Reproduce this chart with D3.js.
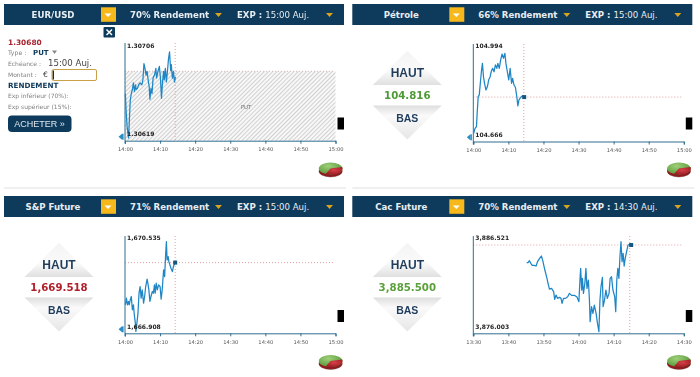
<!DOCTYPE html>
<html><head><meta charset="utf-8">
<script src="https://cdnjs.cloudflare.com/ajax/libs/d3/7.8.5/d3.min.js"></script>
<style>
html,body{margin:0;padding:0;background:#fff;overflow:hidden}
svg{display:block;filter:blur(0.4px)}
text{font-family:"DejaVu Sans",sans-serif}
text.arial{font-family:"Liberation Sans",sans-serif}
</style></head><body>
<svg id="c" width="700" height="377"></svg>
<script>
// ---------- data ----------
const instruments = ["EUR/USD","Pétrole","S&P Future","Cac Future"];
const payouts = ["70% Rendement","66% Rendement","71% Rendement","70% Rendement"];
const expiries = ["15:00 Auj.","15:00 Auj.","15:00 Auj.","14:30 Auj."];
const axisStarts = ["14:00","14:00","14:00","13:30"];
const tickLabelsA = ["14:00","14:10","14:20","14:30","14:40","14:50","15:00"];
const tickLabelsB = ["13:30","13:40","13:50","14:00","14:10","14:20","14:30"];
const highLabels = ["1.30706","104.994","1,670.535","3,886.521"];
const lowLabels = ["1.30619","104.666","1,666.908","3,876.003"];
const highs = [1.30706,104.994,1670.535,3886.521];
const lows = [1.30619,104.666,1666.908,3876.003];
const strikes = [1.30685,104.816,1669.518,3885.5];
const quotes = ["1.30680","104.816","1,669.518","3,885.500"];
const nowMinutes = [14.3,14.4,14.3,44.6];

const eurT = [0.1,0.3,0.6,1,1.2,1.5,1.8,2.1,2.4,2.7,3,3.2,3.5,3.9,4.3,4.8,5.1,5.4,5.7,6,6.3,6.6,6.9,7.1,7.4,7.7,8,8.4,8.8,9,9.4,9.8,10.1,10.4,10.7,11,11.2,11.5,11.8,12.1,12.4,12.7,13,13.2,13.5,13.8,14.1,14.4];
const eurV = [1.30662,1.30645,1.30628,1.30616,1.30631,1.30655,1.30662,1.30666,1.30673,1.30664,1.30671,1.30666,1.30667,1.30671,1.30673,1.30671,1.30676,1.30693,1.30688,1.30681,1.30685,1.30676,1.30669,1.30656,1.30667,1.30662,1.30678,1.30681,1.30688,1.30678,1.30685,1.30690,1.30678,1.30657,1.30674,1.30685,1.30676,1.30688,1.30674,1.30685,1.30698,1.30705,1.30686,1.30692,1.30678,1.30685,1.30674,1.30679];

const oilT = [0.1,0.5,0.9,1.1,1.4,1.7,2,2.3,2.6,2.9,3.2,3.6,4,4.4,4.8,5.1,5.5,5.9,6.3,6.7,7,7.4,7.8,8.2,8.6,9,9.3,9.7,10.1,10.5,10.9,11.2,11.6,12,12.4,12.7,13,13.3,13.7,14.1,14.5];
const oilV = [104.669,104.689,104.696,104.750,104.818,104.825,104.872,104.919,104.953,104.899,104.872,104.845,104.858,104.886,104.899,104.919,104.933,104.919,104.947,104.933,104.953,104.933,104.967,104.991,104.974,104.994,104.953,104.919,104.886,104.933,104.872,104.892,104.865,104.856,104.818,104.780,104.804,104.811,104.818,104.821,104.816];

const spT = [0.1,0.4,0.7,1,1.2,1.5,1.8,2.1,2.4,2.7,2.9,3.1,3.4,3.7,4,4.3,4.6,4.9,5.3,5.6,5.9,6.3,6.6,6.8,7.1,7.4,7.8,8.1,8.4,8.6,8.9,9.2,9.6,10,10.3,10.6,11,11.3,11.6,11.8,12,12.3,12.5,12.8,13.1,13.5,13.8,14.1,14.3];
const spV = [1667.753,1668.031,1667.753,1667.892,1667.753,1667.961,1668.100,1667.544,1667.753,1667.266,1667.058,1666.641,1666.988,1667.405,1668.239,1668.517,1668.031,1668.378,1667.822,1668.100,1668.517,1668.823,1668.587,1668.378,1667.892,1668.100,1668.309,1668.239,1668.587,1668.239,1668.656,1668.378,1668.587,1668.517,1667.989,1668.378,1669.212,1668.934,1669.907,1670.394,1669.629,1669.768,1669.560,1669.421,1669.282,1669.143,1669.351,1669.462,1669.518];

const cacT = [15.2,15.6,16,16.4,16.8,17.3,17.9,18.3,18.9,19.4,19.8,20.4,21,21.3,21.7,22.3,22.9,23.2,23.6,24,24.6,25,25.3,25.7,26.3,26.9,27.4,28,28.8,29.5,30.1,30.4,30.6,30.9,31.1,31.4,31.8,32.1,32.4,32.8,33.1,33.3,33.7,34.1,34.5,35,35.4,35.8,36.1,36.4,36.8,37,37.4,37.8,38.2,38.7,39,39.4,39.8,40.3,40.6,40.9,41.2,41.5,41.8,42.1,42.4,42.7,43,43.3,43.7,44.1,44.6,45];
const cacV = [3883.564,3883.564,3883.783,3883.491,3883.272,3883.272,3883.199,3883.673,3884.039,3884.295,3883.783,3882.760,3881.847,3881.299,3880.678,3880.751,3880.386,3879.546,3880.020,3879.655,3879.765,3879.655,3879.107,3879.655,3879.655,3879.838,3880.203,3879.984,3879.984,3879.838,3879.290,3881.664,3882.943,3880.568,3881.847,3880.203,3881.299,3882.943,3880.751,3881.664,3879.473,3877.098,3878.742,3878.011,3878.925,3878.011,3876.915,3876.003,3879.473,3880.934,3881.957,3878.742,3879.473,3880.568,3879.655,3880.203,3881.847,3882.030,3880.568,3879.838,3878.194,3881.664,3882.943,3881.847,3884.221,3885.865,3883.673,3884.587,3883.199,3884.039,3884.769,3885.500,3885.573,3885.500];

const seriesT = [eurT,oilT,spT,cacT];
const seriesV = [eurV,oilV,spV,cacV];
const quoteColors = ["#a8232f","#4d9a35","#b0202c","#5aa03a"];

// ---------- layout ----------
const NAVY="#0e3a5c", GOLD="#d9a520", LINE="#1f86c6", AXIS="#2f6f92";
const svg=d3.select("#c");
const defs=svg.append("defs");
const g1=defs.append("linearGradient").attr("id","up").attr("x1",0).attr("x2",0).attr("y1",0).attr("y2",1);
g1.append("stop").attr("offset",0).attr("stop-color","#f4f4f4");
g1.append("stop").attr("offset",.6).attr("stop-color","#fafafa");
g1.append("stop").attr("offset",1).attr("stop-color","#e0e0e0");
const g2=defs.append("linearGradient").attr("id","dn").attr("x1",0).attr("x2",0).attr("y1",0).attr("y2",1);
g2.append("stop").attr("offset",0).attr("stop-color","#dedede");
g2.append("stop").attr("offset",.3).attr("stop-color","#fafafa");
g2.append("stop").attr("offset",1).attr("stop-color","#e6e6e6");
const gr=defs.append("radialGradient").attr("id","gre").attr("cx",.4).attr("cy",.3).attr("r",.8);
gr.append("stop").attr("offset",0).attr("stop-color","#9fd07a");
gr.append("stop").attr("offset",1).attr("stop-color","#4c8f2e");
const rd=defs.append("radialGradient").attr("id","red").attr("cx",.5).attr("cy",.4).attr("r",.7);
rd.append("stop").attr("offset",0).attr("stop-color","#d8404a");
rd.append("stop").attr("offset",1).attr("stop-color","#98181f");
const hp=defs.append("pattern").attr("id","hatch").attr("width",3).attr("height",3)
  .attr("patternUnits","userSpaceOnUse").attr("patternTransform","rotate(45)");
hp.append("rect").attr("width",3).attr("height",3).attr("fill","#f8f8f8");
hp.append("rect").attr("width",1).attr("height",3).attr("fill","#d0d0d0");

function toMin(s){const p=s.split(":");return +p[0]*60+ +p[1];}
function fmt(m){return String(Math.floor(m/60)).padStart(2,"0")+":"+String(m%60).padStart(2,"0");}

instruments.forEach((name,i)=>{
  const ox = i%2 ? 348.3 : 0, oy = i>1 ? 192 : 0;
  const g=svg.append("g").attr("transform",`translate(${ox},${oy})`);
  // header
  g.append("rect").attr("x",4).attr("y",4).attr("width",340).attr("height",21).attr("fill",NAVY);
  g.append("text").attr("x",53).attr("y",18).attr("text-anchor","middle").attr("fill","#e8eef2")
    .attr("font-size",8.6).attr("font-weight","bold").text(name);
  g.append("rect").attr("x",101).attr("y",7.3).attr("width",15).attr("height",14.5).attr("fill","#f6b81a");
  g.append("path").attr("d","M104.5 13.5h7l-3.5 3.5z").attr("fill","#fff");
  g.append("text").attr("x",130).attr("y",18).attr("fill","#e8eef2").attr("font-size",8.6).attr("font-weight","bold").text(payouts[i]);
  g.append("path").attr("d","M215 13h7l-3.5 4z").attr("fill",GOLD);
  const ex=g.append("text").attr("x",237).attr("y",18).attr("fill","#e8eef2").attr("font-size",8.6);
  ex.append("tspan").attr("font-weight","bold").text("EXP : ");
  ex.append("tspan").text(expiries[i]);
  g.append("path").attr("d","M326 13h7l-3.5 4z").attr("fill",GOLD);

  // chart
  const xScale=d3.scaleLinear().domain([0,60]).range([125,335.5]);
  const bot=[140.7,141.5,141.3,141.3][i];
  const yRange=[[135,51],[134,53.3],[133,46.3],[139.7,43.7]][i];
  const yScale=d3.scaleLinear().domain([lows[i],highs[i]]).range(yRange);
  const y0=[43,44,44,44][i];

  if(i===0){
    g.append("rect").attr("x",125).attr("y",yScale(strikes[0])).attr("width",210.5)
     .attr("height",bot-yScale(strikes[0])).attr("fill","url(#hatch)");
    g.append("text").attr("x",246).attr("y",109).attr("text-anchor","middle").attr("font-size",5.5).attr("fill","#777").text("PUT");
  }
  // dotted guides
  g.append("line").attr("x1",125).attr("x2",334).attr("y1",yScale(strikes[i])).attr("y2",yScale(strikes[i]))
    .attr("stroke",i===0?"#d8b8b8":"#e2a0a0").attr("stroke-width",1).attr("stroke-dasharray","1 2");
  g.append("line").attr("x1",xScale(nowMinutes[i])).attr("x2",xScale(nowMinutes[i])).attr("y1",y0).attr("y2",bot)
    .attr("stroke","#e2a0a0").attr("stroke-width",1).attr("stroke-dasharray","1 2");

  // axis
  const ticks=i===3?tickLabelsB:tickLabelsA;
  const start=toMin(axisStarts[i]);
  const ax=d3.axisBottom(xScale).tickValues(d3.range(0,61,10)).tickSize(3).tickFormat(d=>fmt(start+d));
  const ag=g.append("g").attr("transform",`translate(0,${bot})`).call(ax);
  ag.selectAll("path,line").attr("stroke",AXIS).attr("stroke-width",1);
  ag.selectAll("text").attr("font-size",5.2).attr("fill","#555").attr("y",7).text((d,k)=>ticks[k]);
  g.append("line").attr("x1",125).attr("x2",125).attr("y1",y0).attr("y2",bot+3).attr("stroke",AXIS).attr("stroke-width",1);

  // price line
  const line=d3.line().x((d,k)=>xScale(seriesT[i][k])).y(d=>yScale(d));
  g.append("path").datum(seriesV[i]).attr("d",line).attr("fill","none").attr("stroke",LINE)
    .attr("stroke-width",1.25).attr("stroke-linejoin","round");
  if(i>0){
    const k=seriesV[i].length-1;
    g.append("rect").attr("x",xScale(seriesT[i][k])-2).attr("y",yScale(seriesV[i][k])-2)
     .attr("width",4).attr("height",4).attr("fill","#17577f");
  }
  g.append("text").attr("x",127).attr("y",[47.5,48,48,48][i]).attr("font-size",6).attr("font-weight","bold").attr("fill","#222").text(highLabels[i]);
  g.append("text").attr("x",127).attr("y",[136,137,137,137][i]).attr("font-size",6).attr("font-weight","bold").attr("fill","#222").text(lowLabels[i]);

  // left arrow marker
  if(i<3){
    const ay=[136.7,137.3,137.3][i];
    g.append("path").attr("d",`M118.5 ${ay}l3.5 -3v6z`).attr("fill","#2b8fc6");
    g.append("rect").attr("x",122).attr("y",ay-3).attr("width",1.6).attr("height",6).attr("fill","#2b8fc6");
  }
  // black tab
  g.append("rect").attr("x",337.5).attr("y",i>1?118:117.5).attr("width",6.5).attr("height",12).attr("fill","#000");
  // pie icon
  const pie=g.append("g").attr("transform",`translate(330.6,${i>1?170:169.5})`);
  pie.append("ellipse").attr("cx",0).attr("cy",2).attr("rx",11.8).attr("ry",6).attr("fill","#7a7a7a").attr("opacity",.5);
  pie.append("ellipse").attr("cx",0).attr("cy",1.5).attr("rx",11.8).attr("ry",6).attr("fill","#8c1c20");
  pie.append("ellipse").attr("cx",0).attr("cy",-1).attr("rx",11.8).attr("ry",6).attr("fill","url(#gre)");
  pie.append("path").attr("d","M0 -1L11.6 -2.4A11.8 6 0 0 1 -5 4.4z").attr("fill","url(#red)");

  if(i===0){
    g.append("rect").attr("x",103.5).attr("y",27).attr("width",11.5).attr("height",10.5).attr("rx",1).attr("fill",NAVY);
    g.append("path").attr("d","M106.5 29.5l5.5 5.5M112 29.5l-5.5 5.5").attr("stroke","#fff").attr("stroke-width",1.5);
    g.append("text").attr("x",8).attr("y",44.5).attr("font-size",7.4).attr("font-weight","bold").attr("fill",quoteColors[0]).text(quotes[0]);
    const grey="#808080";
    g.append("text").attr("x",8).attr("y",55).attr("font-size",6.2).attr("fill",grey).text("Type :");
    g.append("text").attr("x",33).attr("y",55).attr("font-weight","bold").attr("font-size",7).attr("fill",NAVY).text("PUT");
    g.append("path").attr("d","M52 50.5h5l-2.5 3.5z").attr("fill","#888");
    g.append("text").attr("x",8).attr("y",66).attr("font-size",6).attr("fill",grey).text("Echéance :");
    g.append("text").attr("x",48).attr("y",66).attr("font-size",8.6).attr("fill","#444").text("15:00 Auj.");
    g.append("text").attr("x",8).attr("y",76.5).attr("font-size",6).attr("fill",grey).text("Montant :");
    g.append("text").attr("x",43).attr("y",77).attr("font-size",7.5).attr("fill","#333").text("€");
    g.append("rect").attr("x",52).attr("y",69.5).attr("width",44.5).attr("height",11).attr("rx",1.5).attr("fill","#fff").attr("stroke","#c9a04a").attr("stroke-width",1);
    g.append("rect").attr("x",52.7).attr("y",70.5).attr("width",1.2).attr("height",9).attr("fill","#111");
    g.append("text").attr("x",8).attr("y",88).attr("font-size",7.2).attr("font-weight","bold").attr("fill",NAVY).text("RENDEMENT");
    g.append("text").attr("x",8).attr("y",98).attr("font-size",6).attr("fill",grey).text("Exp inférieur (70%):");
    g.append("text").attr("x",8).attr("y",109).attr("font-size",6).attr("fill",grey).text("Exp supérieur (15%):");
    g.append("rect").attr("x",8).attr("y",115.5).attr("width",63.5).attr("height",16.5).attr("rx",4).attr("fill",NAVY);
    g.append("text").attr("class","arial").attr("x",39.5).attr("y",127).attr("text-anchor","middle").attr("font-size",9).attr("fill","#dfe8ee").text("ACHETER »");
  } else {
    g.append("path").attr("d","M59 50.7L93.5 85H24.5z").attr("fill","url(#up)");
    g.append("path").attr("d","M24.5 105.5H93.5L59 139.5z").attr("fill","url(#dn)");
    g.append("text").attr("class","arial").attr("x",59).attr("y",76.5).attr("text-anchor","middle").attr("font-size",12).attr("font-weight","bold")
      .attr("fill","#1f3c5c").text("HAUT");
    g.append("text").attr("class","arial").attr("x",59).attr("y",121.5).attr("text-anchor","middle").attr("font-size",10.5).attr("font-weight","bold")
      .attr("fill","#1f3c5c").text("BAS");
    g.append("text").attr("x",59).attr("y",99).attr("text-anchor","middle").attr("font-size",10.2).attr("font-weight","bold")
      .attr("fill",quoteColors[i]).text(quotes[i]);
  }
  // bottom separator
  if(i<2) g.append("rect").attr("x",4).attr("y",187).attr("width",342).attr("height",2).attr("fill","#efefef");
});
</script>
</body></html>
